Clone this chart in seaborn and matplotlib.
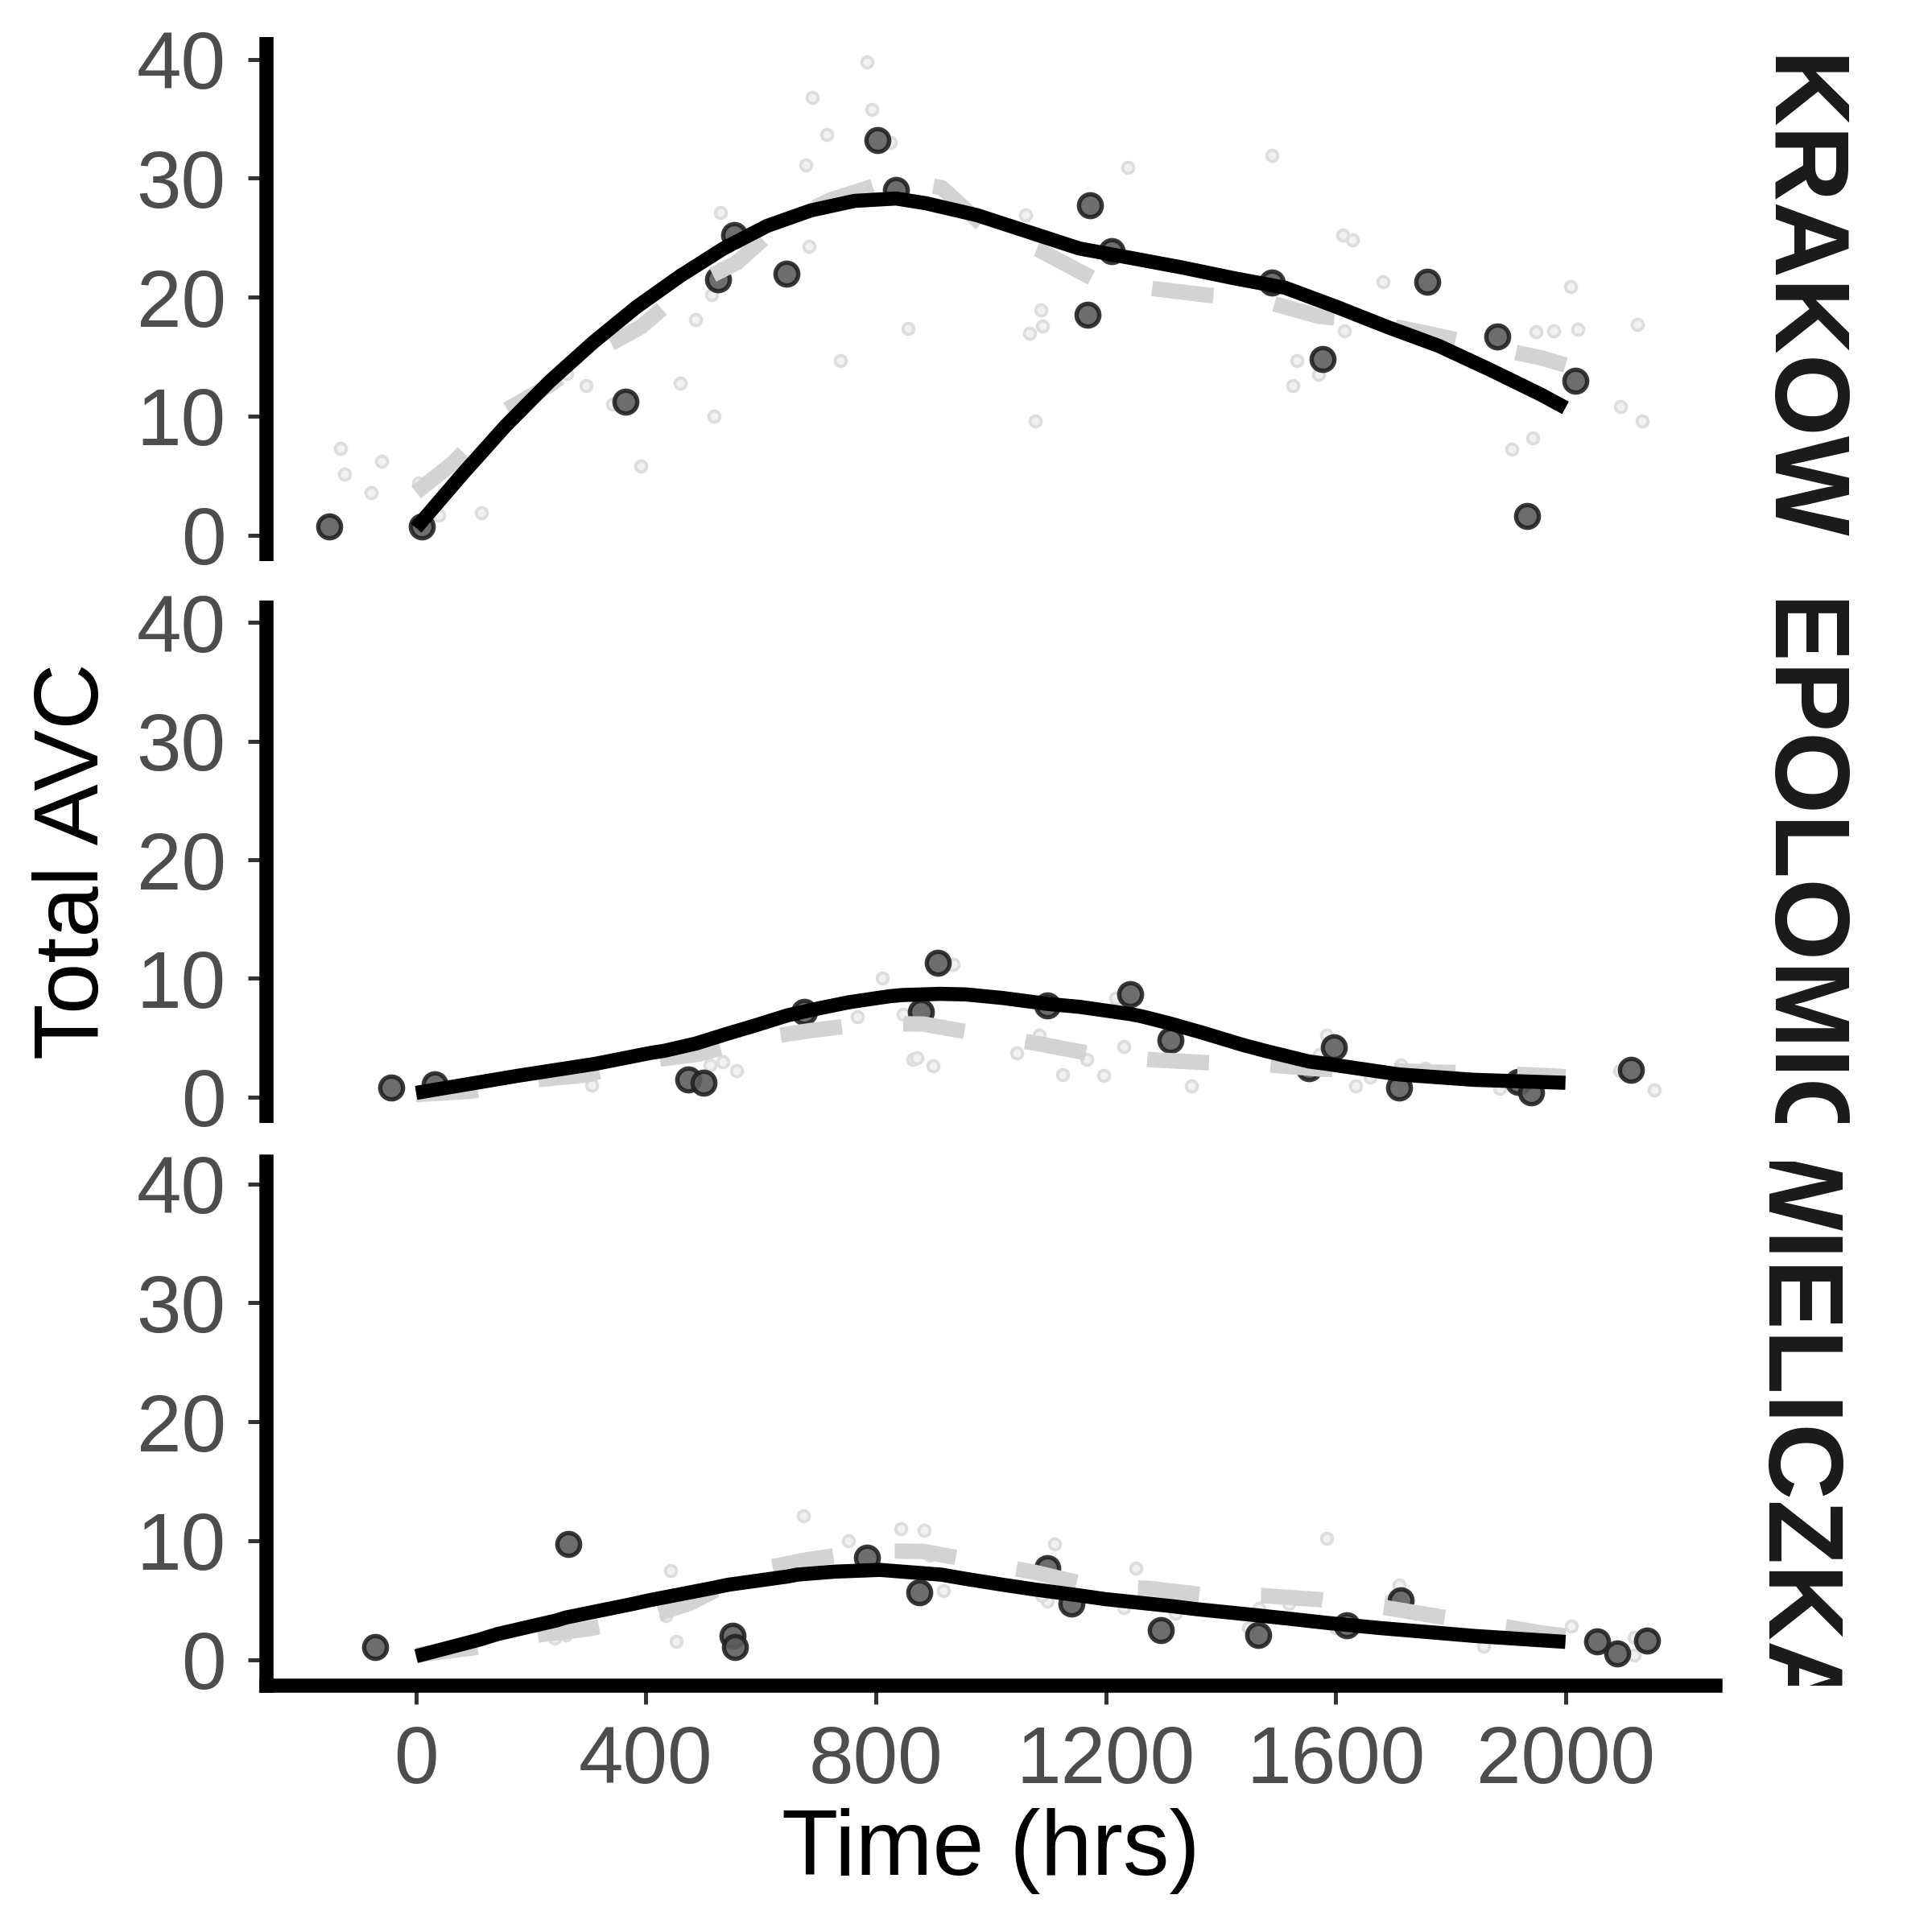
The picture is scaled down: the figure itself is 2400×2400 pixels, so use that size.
import pandas as pd
import seaborn as sns
import matplotlib.pyplot as plt
from matplotlib.transforms import Bbox, TransformedBbox

sns.set_style("white")
plt.rcParams["font.family"] = ["Liberation Sans", "DejaVu Sans"]

sites = ["KRAKOW", "NIEPOLOMICE", "WIELICZKA"]
y_ticks = [0, 10, 20, 30, 40]
x_ticks = [0, 400, 800, 1200, 1600, 2000]

# measured samples for each site (time in hrs, total AVC)
krakow_obs = [(-151, 0.7), (10, 0.7), (365, 11.2), (526, 21.5), (553, 25.2), (644, 22.0),
              (803, 33.2), (835, 29.0), (1172, 27.7), (1169, 18.5), (1211, 23.9), (1489, 21.2),
              (1577, 14.8), (1760, 21.3), (1882, 16.7), (1933, 1.6), (2017, 13.0)]
niepolomice_obs = [(-44, 0.8), (32, 1.1), (474, 1.5), (500, 1.2), (675, 7.2), (878, 7.2),
                   (908, 11.3), (1099, 7.7), (1242, 8.7), (1312, 4.8), (1553, 2.4), (1597, 4.2),
                   (1711, 0.8), (1918, 1.3), (1940, 0.4), (2114, 2.3)]
wieliczka_obs = [(-71, 1.1), (265, 9.7), (551, 2.0), (555, 1.05), (784, 8.6), (876, 5.65),
                 (1099, 7.7), (1141, 4.75), (1296, 2.5), (1465, 2.06), (1620, 2.9), (1713, 5.0),
                 (2055, 1.56), (2090, 0.54), (2142, 1.6)]

# faint background samples (all other sites)
krakow_bg = [(-132, 7.3), (-125, 5.1), (-79, 3.6), (-60, 6.2), (4, 4.4), (40, 1.7), (113, 1.9),
             (262, 13.6), (296, 12.6), (342, 11.0), (391, 5.8), (460, 12.8), (486, 18.1),
             (514, 20.2), (518, 10.0), (529, 27.1), (683, 24.3), (678, 31.1), (714, 33.7),
             (689, 36.8), (738, 14.7), (784, 39.8), (793, 35.8), (825, 33.0), (856, 17.4),
             (1061, 26.9), (1238, 30.9), (1087, 18.9), (1090, 17.6), (1068, 17.0), (1077, 9.6),
             (1489, 31.9), (1612, 25.2), (1629, 24.8), (1683, 21.3), (1615, 17.2), (1532, 14.7),
             (1570, 13.5), (1526, 12.6), (1949, 17.1), (1979, 17.2), (2022, 17.3), (2009, 20.9),
             (2125, 17.7), (2096, 10.8), (2134, 9.6), (1943, 8.2), (1907, 7.2)]
niepolomice_bg = [(273, 1.9), (305, 1.0), (512, 2.7), (534, 3.0), (558, 2.2), (811, 10.0),
                  (768, 6.8), (848, 7.0), (864, 3.2), (872, 3.3), (900, 2.6), (934, 11.2),
                  (1085, 5.2), (1045, 3.75), (1125, 1.9), (1167, 3.2), (1197, 1.8), (1231, 4.25),
                  (1218, 8.3), (1349, 0.95), (1584, 5.2), (1572, 3.6), (1635, 0.95), (1660, 1.65),
                  (1713, 2.7), (1755, 2.4), (1885, 0.7), (2094, 2.2), (2154, 0.6)]
wieliczka_bg = [(443, 7.5), (435, 3.7), (452, 1.56), (241, 1.8), (260, 2.1), (269, 2.9),
                (674, 12.1), (752, 10.0), (844, 11.0), (884, 10.9), (894, 8.8), (917, 5.8),
                (1111, 9.75), (1099, 4.9), (1089, 5.4), (1253, 7.7), (1231, 4.4), (1284, 6.1),
                (1321, 3.9), (1448, 2.7), (1467, 4.3), (1519, 4.7), (1585, 10.2), (1600, 2.7),
                (1711, 6.3), (1697, 5.0), (1858, 1.15), (1929, 2.2), (2010, 2.8), (2120, 1.9),
                (2120, 0.4)]

# smooth fit for the site (solid black)
krakow_fit = [(0, 0.6), (80, 5.1), (156, 9.2), (232, 12.9), (308, 16.2), (384, 19.2), (460, 21.8),
              (535, 24.1), (611, 26.0), (687, 27.3), (763, 28.1), (835, 28.3), (887, 27.9),
              (976, 26.9), (1065, 25.5), (1154, 24.1), (1244, 23.3), (1333, 22.5), (1423, 21.6),
              (1512, 20.8), (1601, 19.2), (1690, 17.5), (1780, 15.9), (1869, 13.9), (1958, 11.8),
              (2000, 10.7)]
niepolomice_fit = [(0, 0.35), (178, 1.8), (312, 2.8), (406, 3.7), (432, 3.9), (486, 4.5),
                   (539, 5.3), (591, 6.05), (647, 6.9), (703, 7.5), (754, 8.0), (824, 8.5),
                   (847, 8.6), (912, 8.7), (957, 8.65), (1021, 8.35), (1099, 7.85), (1155, 7.6),
                   (1242, 7.0), (1263, 6.8), (1312, 6.2), (1370, 5.4), (1438, 4.4), (1477, 3.9),
                   (1553, 3.0), (1584, 2.8), (1711, 1.9), (1841, 1.45), (2000, 1.2)]
wieliczka_fit = [(0, 0.3), (111, 1.7), (141, 2.15), (244, 3.3), (261, 3.55), (378, 4.7),
                 (406, 5.0), (513, 6.0), (543, 6.3), (647, 7.0), (663, 7.15), (727, 7.4),
                 (807, 7.55), (914, 7.15), (956, 6.8), (1021, 6.3), (1077, 5.9), (1155, 5.4),
                 (1198, 5.1), (1316, 4.5), (1358, 4.25), (1450, 3.8), (1519, 3.45), (1584, 3.1),
                 (1680, 2.65), (1718, 2.5), (1841, 2.0), (2000, 1.5)]

# smooth fit of the background (grey dashed)
krakow_bgfit = [(0, 3.6), (65, 6.1), (149, 10.3), (232, 12.6), (308, 15.3), (391, 17.5),
                (471, 20.8), (558, 22.9), (634, 26.2), (722, 28.2), (820, 29.7), (880, 29.5),
                (915, 29.2), (994, 25.7), (1083, 24.0), (1177, 21.6), (1270, 20.8), (1373, 20.2),
                (1467, 19.8), (1570, 18.4), (1655, 18.0), (1766, 16.9), (1860, 15.9), (1958, 14.9),
                (2000, 14.3)]
niepolomice_bgfit = [(0, 0.2), (97, 0.5), (198, 1.4), (294, 1.85), (392, 3.0), (490, 3.6),
                     (590, 4.9), (686, 5.6), (787, 6.2), (883, 6.15), (982, 5.3), (1082, 4.5),
                     (1180, 3.6), (1278, 3.15), (1376, 2.9), (1475, 2.75), (1575, 2.35),
                     (1675, 2.25), (1772, 2.1), (1872, 2.0), (1972, 1.8), (2000, 1.7)]
wieliczka_bgfit = [(0, 0.4), (100, 1.0), (200, 2.0), (300, 2.6), (405, 3.6), (479, 4.8),
                   (586, 7.5), (680, 8.4), (787, 9.15), (883, 9.1), (979, 8.25), (1076, 7.35),
                   (1176, 6.2), (1273, 6.0), (1373, 5.45), (1471, 5.4), (1573, 5.05), (1672, 4.5),
                   (1771, 3.7), (1868, 3.0), (1965, 2.2), (2000, 2.0)]

observed = {"KRAKOW": krakow_obs, "NIEPOLOMICE": niepolomice_obs, "WIELICZKA": wieliczka_obs}
background = {"KRAKOW": krakow_bg, "NIEPOLOMICE": niepolomice_bg, "WIELICZKA": wieliczka_bg}
site_fit = {"KRAKOW": krakow_fit, "NIEPOLOMICE": niepolomice_fit, "WIELICZKA": wieliczka_fit}
bg_fit = {"KRAKOW": krakow_bgfit, "NIEPOLOMICE": niepolomice_bgfit, "WIELICZKA": wieliczka_bgfit}


def frame(pairs):
    return pd.DataFrame(pairs, columns=["time", "avc"])


fig = plt.figure(figsize=(8, 8), dpi=300)
left, right = 330.6 / 2400, 2131 / 2400
rows = [(0.7096, 0.9808), (0.4188, 0.6892), (0.1275, 0.3988)]
tick_col = "#333333"

for i, site in enumerate(sites):
    bottom, top = rows[i]
    ax = fig.add_axes([left, bottom, right - left, top - bottom])

    sns.scatterplot(data=frame(background[site]), x="time", y="avc", ax=ax, s=11,
                    color="#f1f1f1", edgecolor="#dddddd", linewidth=0.9, zorder=1)
    sns.scatterplot(data=frame(observed[site]), x="time", y="avc", ax=ax, s=46,
                    color="#5e5e5e", edgecolor="#222222", linewidth=1.3, alpha=0.9, zorder=2)
    sns.lineplot(data=frame(bg_fit[site]), x="time", y="avc", ax=ax, sort=False,
                 estimator=None, color="#d3d3d3", linewidth=4.6, zorder=3)
    ax.lines[-1].set_linestyle((0, (4, 4)))
    ax.lines[-1].set_dash_capstyle("butt")
    sns.lineplot(data=frame(site_fit[site]), x="time", y="avc", ax=ax, sort=False,
                 estimator=None, color="black", linewidth=4.2, zorder=4,
                 solid_capstyle="butt", solid_joinstyle="round")

    ax.set_xlim(-261, 2261)
    ax.set_ylim(-2.18, 41.87)
    ax.set_yticks(y_ticks)
    ax.set_xticks(x_ticks)
    ax.set_xlabel("")
    ax.set_ylabel("")

    for side in ["top", "right"]:
        ax.spines[side].set_visible(False)
    ax.spines["left"].set_linewidth(4.2)
    ax.spines["left"].set_color("black")
    ax.spines["left"].set_capstyle("butt")

    ax.tick_params(axis="y", left=True, length=5.5, width=1.2, color=tick_col,
                   labelsize=24, labelcolor="#4d4d4d", pad=6.5)
    if i == len(sites) - 1:
        ax.spines["bottom"].set_linewidth(4.2)
        ax.spines["bottom"].set_color("black")
        ax.spines["bottom"].set_capstyle("projecting")
        ax.spines["left"].set_capstyle("projecting")
        ax.tick_params(axis="x", bottom=True, length=5.5, width=1.2, color=tick_col,
                       labelsize=24, labelcolor="#4d4d4d", pad=6)
    else:
        ax.spines["bottom"].set_visible(False)
        ax.tick_params(axis="x", bottom=False, labelbottom=False)

    # strip label, clipped to the strip like a facet label
    strip = ax.text(1.0556, 0.5, site, transform=ax.transAxes, rotation=-90,
                    ha="center", va="center", fontsize=31.5, fontweight="bold",
                    color="#1a1a1a", clip_on=True)
    strip.set_clip_box(TransformedBbox(Bbox([[1.0, 0.0], [1.3, 1.0]]), ax.transAxes))

fig.text(0.0386, 1 - 1070 / 2400, "Total AVC", rotation=90, ha="center", va="center",
         fontsize=27.4, color="black")
fig.text((330.6 + 2131) / 2 / 2400, 0.042, "Time (hrs)", ha="center", va="center",
         fontsize=27.6, color="black")

fig.savefig("out.png", dpi=300, facecolor="white")
